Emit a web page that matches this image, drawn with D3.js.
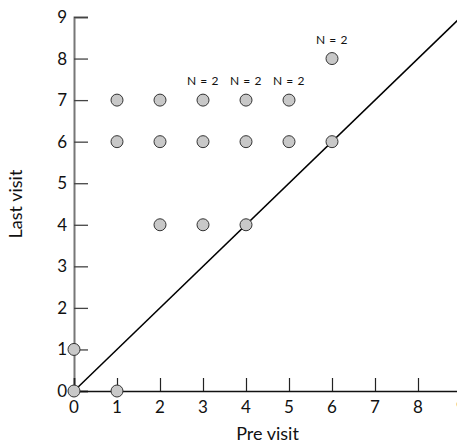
<!DOCTYPE html>
<html>
<head>
<meta charset="utf-8">
<script src="https://cdn.jsdelivr.net/npm/d3@7"></script>
<style>
  body { margin: 0; background: #fff; }
  svg { display: block; font-family: Futura, "Century Gothic", Lato, sans-serif; }
</style>
</head>
<body>
<svg id="chart" width="457" height="444"></svg>
<script>
// data
const preVisit  = [0, 0, 1, 1, 1, 2, 2, 2, 3, 3, 3, 4, 4, 4, 5, 5, 6, 6];
const lastVisit = [0, 1, 0, 6, 7, 4, 6, 7, 4, 6, 7, 4, 6, 7, 6, 7, 6, 8];
const counts    = [1, 1, 1, 1, 1, 1, 1, 1, 1, 1, 2, 1, 1, 2, 1, 2, 1, 2];
const xTicks = [0, 1, 2, 3, 4, 5, 6, 7, 8, 9];
const yTicks = [0, 1, 2, 3, 4, 5, 6, 7, 8, 9];

const points = preVisit.map((d, i) => ({ x: d, y: lastVisit[i], n: counts[i] }));

const svg = d3.select('#chart');

const x = d3.scaleLinear().domain([0, 9]).range([74, 461]);
const y = d3.scaleLinear().domain([0, 9]).range([391, 17]);

// y axis (ticks point inward)
const yAxis = svg.append('g')
    .attr('transform', `translate(${x(0)},0)`)
    .call(d3.axisRight(y).tickValues(yTicks).tickSize(14).tickFormat(''));
yAxis.select('.domain').attr('stroke', '#777').attr('stroke-width', 2);
yAxis.selectAll('.tick line').attr('stroke', '#444').attr('stroke-width', 1.3);

svg.append('g').selectAll('text')
  .data(yTicks)
  .enter().append('text')
    .attr('x', 67)
    .attr('y', d => y(d) + 6)
    .attr('text-anchor', 'end')
    .attr('font-size', 17)
    .attr('fill', '#111')
    .text(d => d);

// x axis (ticks point inward)
const xAxis = svg.append('g')
    .attr('transform', `translate(0,${y(0)})`)
    .call(d3.axisTop(x).tickValues(xTicks).tickSize(13).tickFormat(''));
xAxis.select('.domain').attr('stroke', '#111').attr('stroke-width', 1.5);
xAxis.selectAll('.tick line').attr('stroke', '#222').attr('stroke-width', 1.2);

svg.append('g').selectAll('text')
  .data(xTicks)
  .enter().append('text')
    .attr('x', d => x(d))
    .attr('y', 413)
    .attr('text-anchor', 'middle')
    .attr('font-size', 17)
    .attr('fill', '#111')
    .text(d => d);

// axis titles
svg.append('text')
    .attr('x', (x(0) + x(9)) / 2)
    .attr('y', 440)
    .attr('text-anchor', 'middle')
    .attr('font-size', 18)
    .attr('fill', '#111')
    .text('Pre visit');

svg.append('text')
    .attr('transform', `translate(22,${(y(0) + y(9)) / 2}) rotate(-90)`)
    .attr('text-anchor', 'middle')
    .attr('font-size', 18)
    .attr('fill', '#111')
    .text('Last visit');

// identity line
svg.append('line')
    .attr('x1', x(0)).attr('y1', y(0))
    .attr('x2', x(9)).attr('y2', y(9))
    .attr('stroke', '#000')
    .attr('stroke-width', 1.5);

// points
svg.append('g').selectAll('circle')
  .data(points)
  .enter().append('circle')
    .attr('cx', d => x(d.x))
    .attr('cy', d => y(d.y))
    .attr('r', 6)
    .attr('fill', '#c8c8c8')
    .attr('stroke', '#333')
    .attr('stroke-width', 1);

// N labels
svg.append('g').selectAll('text')
  .data(points.filter(d => d.n > 1))
  .enter().append('text')
    .attr('x', d => x(d.x))
    .attr('y', d => y(d.y) - 15)
    .attr('text-anchor', 'middle')
    .attr('font-size', 12)
    .attr('letter-spacing', 0.6)
    .attr('fill', '#111')
    .text(d => 'N = ' + d.n);
</script>
</body>
</html>
